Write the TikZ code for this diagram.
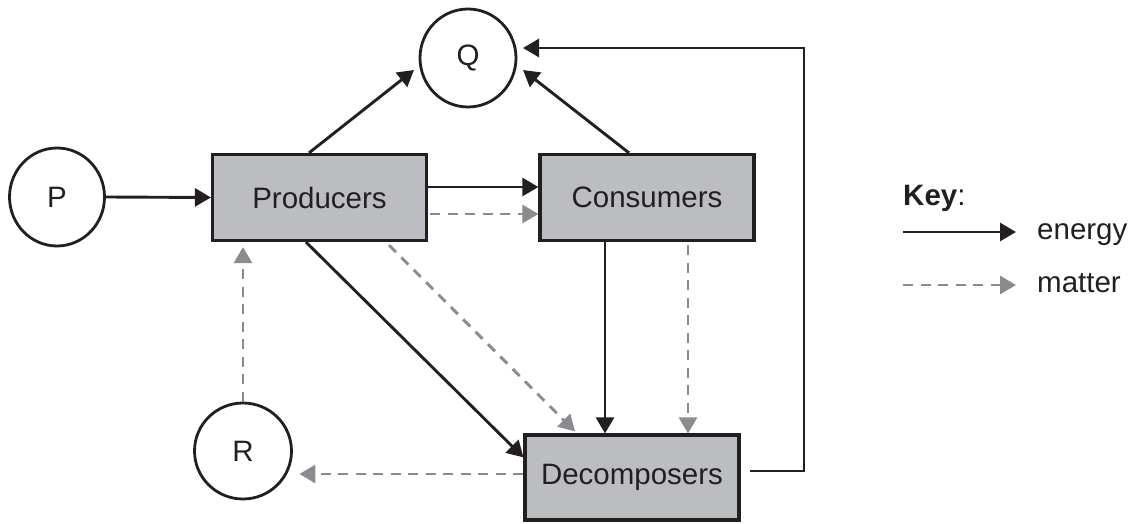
\documentclass[tikz,border=0pt]{standalone}
\usepackage{fontspec}
\setmainfont{Liberation Sans}
\usetikzlibrary{arrows.meta,shapes.geometric,calc}
\definecolor{ink}{HTML}{231F20}
\definecolor{boxgray}{HTML}{BCBDC0}
\definecolor{mgray}{HTML}{898B8E}
\begin{document}
\begin{tikzpicture}[x=1pt,y=-1pt,
  font=\fontsize{29.5}{34}\selectfont,
  circ/.style={ellipse, draw=ink, line width=2.8pt, minimum width=95pt, minimum height=98pt, inner sep=0pt, text=ink},
  sbox/.style={rectangle, draw=ink, fill=boxgray, line width=3.2pt, minimum width=214pt, minimum height=86pt, inner sep=0pt, text=ink},
  energy/.style={draw=ink, line width=2.9pt, -{Triangle[length=16pt,width=18pt]}},
  matter/.style={draw=mgray, line width=2.9pt, dash pattern=on 10pt off 7.5pt, -{Triangle[length=16pt,width=18pt]}},
  keytext/.style={inner sep=0pt, text=ink}
]
\useasboundingbox (0,0) rectangle (1135,524);

% nodes
\node[circ] (P) at (57,197) {P};
\node[circ, minimum width=96pt] (Q) at (468,58) {Q};
\node[circ, minimum width=97pt, minimum height=96pt] (R) at (243,451) {R};
\node[sbox] (Prod) at (319.5,197.5) {Producers};
\node[sbox] (Cons) at (647,197.5) {Consumers};
\node[sbox, minimum height=85pt] (Dec) at (632,477.5) {Decomposers};

% energy connectors
\draw[energy] (P.east) -- (Prod.west);
\draw[energy] ([xshift=-10.5pt]Prod.north) -- ($(Q)+(-54,12)$);
\draw[energy] ([xshift=-18pt]Cons.north) -- ($(Q)+(55,12)$);
\coordinate (loop) at (804,48);
\draw[energy] ($(Dec.east)+(9,-6.5)$) -| (loop) -- ($(Q)+(55,-10)$);
\draw[energy] ([yshift=10.5pt]Prod.east) -- ([yshift=10.5pt]Cons.west);
\draw[energy] ([xshift=-13.5pt]Prod.south) -- ([yshift=-24pt]Dec.north west);
\coordinate (c1) at ([xshift=-42pt]Cons.south);
\draw[energy] (c1) -- (c1 |- Dec.north);

% matter connectors
\draw[matter] ([xshift=2pt,yshift=-16.5pt]Prod.east) -- ([yshift=-16.5pt]Cons.west);
\draw[matter] ([xshift=69.5pt,yshift=-3pt]Prod.south) -- ([xshift=-57pt,yshift=2pt]Dec.north);
\coordinate (c2) at ([xshift=41pt,yshift=-3pt]Cons.south);
\draw[matter] (c2) -- (c2 |- Dec.north);
\draw[matter, shorten >=5pt] (R.north) -- (R.north |- Prod.south);
\coordinate (dl) at ([yshift=3.5pt]Dec.west);
\draw[matter, shorten >=6.5pt] (dl) -- (R.east |- dl);

% key
\node[keytext, anchor=base west] (key) at (903,205.5) {\textbf{Key}:};
\coordinate (e1) at (903,232);
\coordinate (e2) at (1016,232);
\draw[energy] (e1) -- (e2);
\node[keytext, anchor=base west] (en) at (1037,239.5) {energy};
\coordinate (m1) at (903,285);
\coordinate (m2) at (1016,285);
\draw[matter] (m1) -- (m2);
\node[keytext, anchor=base west] (ma) at (1037,292.5) {matter};
\end{tikzpicture}
\end{document}
